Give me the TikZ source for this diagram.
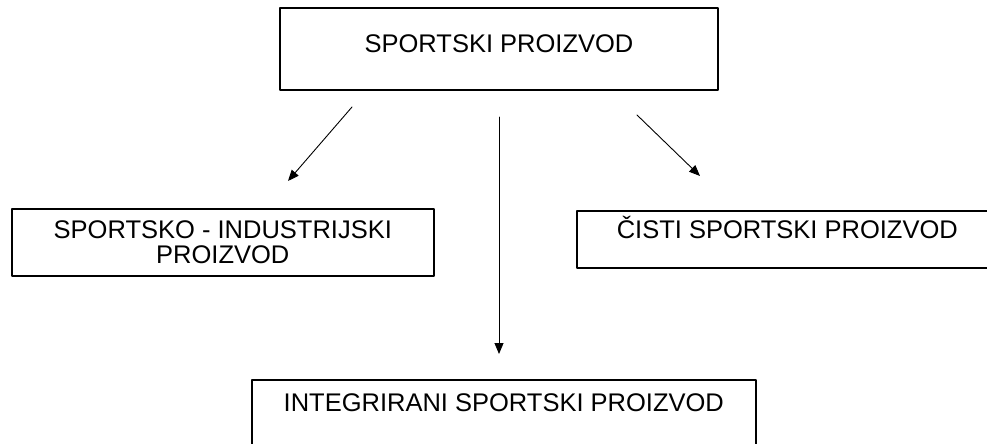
\documentclass[tikz,border=0pt]{standalone}
\usepackage{fontspec}
\setmainfont{Liberation Sans}
\usetikzlibrary{arrows.meta}
\begin{document}
\begin{tikzpicture}[x=1pt, y=-1pt, font=\fontsize{25.5}{25}\selectfont, line cap=round, line join=round, >={Triangle[length=11pt,width=9pt]},
  box/.style={draw, line width=1.6pt, inner xsep=0pt, inner ysep=0pt, align=center},
  arrow/.style={->, line width=0.9pt}]
\clip (0,0) rectangle (987,444);
\node[box, minimum width=438, text height=45, text depth=37, anchor=north] (proizvod) at (499,7) {SPORTSKI PROIZVOD};
\node[box, minimum width=422, minimum height=67, anchor=north west] (industrijski) at (11,208) {SPORTSKO - INDUSTRIJSKI\\PROIZVOD};
\node[box, minimum width=421, text height=28, text depth=29, anchor=north west] (cisti) at (576,210) {ČISTI SPORTSKI PROIZVOD};
\node[box, minimum width=504, text height=32, text depth=60, anchor=north west] (integrirani) at (251,379) {INTEGRIRANI SPORTSKI PROIZVOD};

\coordinate (l1) at (352,107); \coordinate (l2) at (288,181);
\coordinate (c1) at (499,117); \coordinate (c2) at (499,354);
\coordinate (r1) at (637,115); \coordinate (r2) at (700,176);
\draw[arrow] (l1)--(l2);
\draw[arrow] (c1)--(c2);
\draw[arrow] (r1)--(r2);
\end{tikzpicture}
\end{document}
